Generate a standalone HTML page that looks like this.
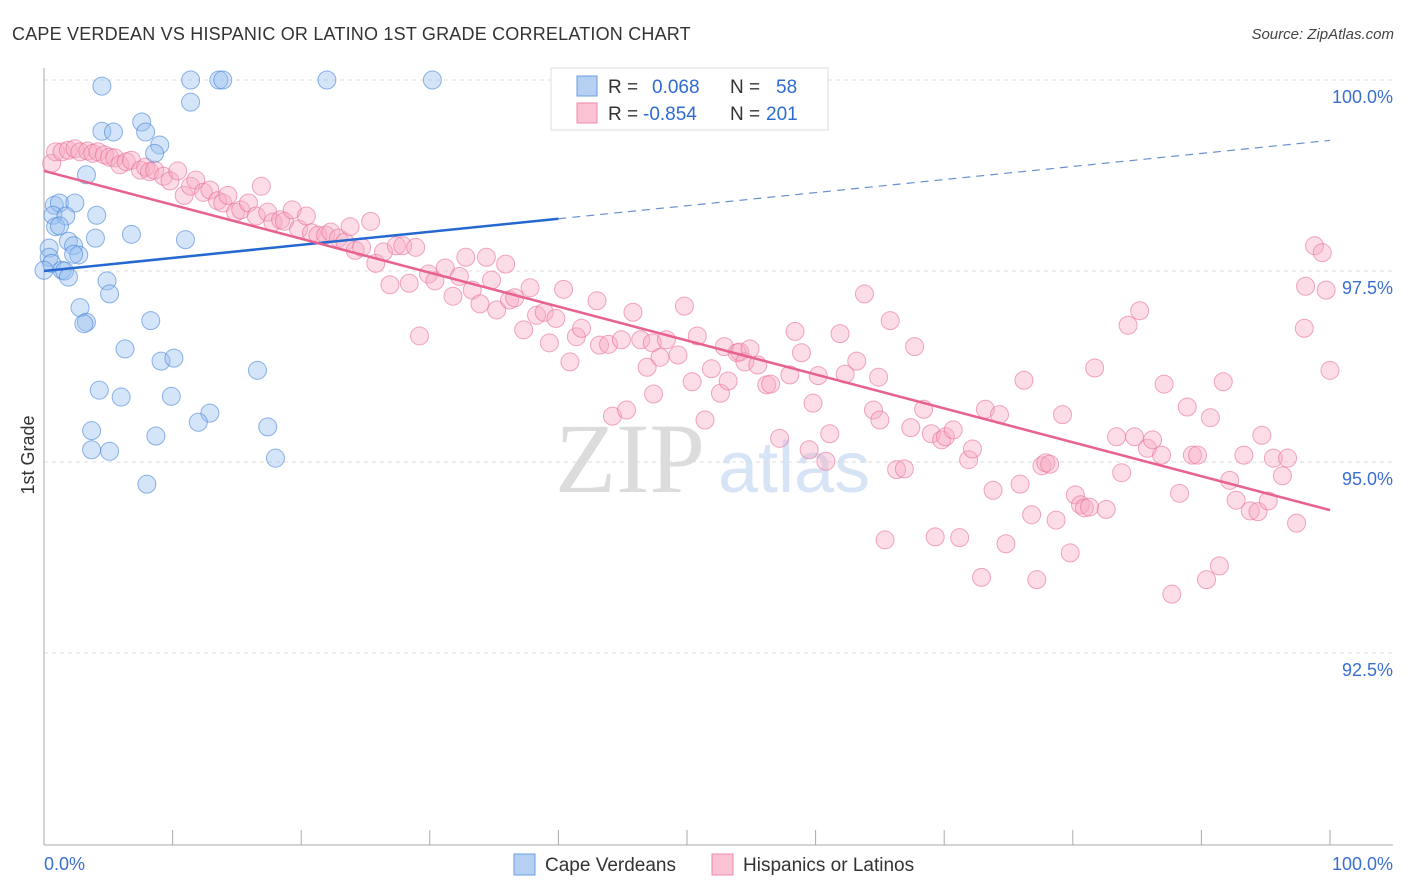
<!DOCTYPE html>
<html><head><meta charset="utf-8">
<style>
body{margin:0;background:#fff;font-family:"Liberation Sans",sans-serif;}
#wrap{position:relative;width:1406px;height:892px;overflow:hidden;}
</style></head>
<body>
<div id="wrap">
<svg id="chart" width="1406" height="892">
<text x="12" y="40" font-size="18" letter-spacing="0.2" fill="#333">CAPE VERDEAN VS HISPANIC OR LATINO 1ST GRADE CORRELATION CHART</text>
<text x="1394" y="39" font-size="15" fill="#444" font-style="italic" text-anchor="end">Source: ZipAtlas.com</text>
<text x="555" y="492" font-size="100" fill="#dcdcdc" font-family="Liberation Serif,serif">ZIP</text>
<text x="718" y="492" font-size="72" fill="#d6e4f6">atlas</text>
<g id="grid"></g>
<g id="axes"></g>
<g id="points"></g>
<g id="trends"></g>
<text transform="translate(34,455) rotate(-90)" font-size="18" fill="#333" text-anchor="middle">1st Grade</text>
<g>
<rect x="551" y="68" width="277" height="62" fill="#fff" stroke="#ddd"/>
<rect x="577" y="76" width="20" height="20" fill="#b5d0f3" stroke="#6a9ee0"/>
<rect x="577" y="103" width="20" height="20" fill="#fac2d3" stroke="#ec8aab"/>
<text x="608" y="93" font-size="19" fill="#333">R = <tspan fill="#2f6bd0" x="652">0.068</tspan><tspan x="730" fill="#333">N =</tspan><tspan x="776" fill="#2f6bd0">58</tspan></text>
<text x="608" y="120" font-size="19" fill="#333">R = <tspan fill="#2f6bd0" x="643">-0.854</tspan><tspan x="730" fill="#333">N =</tspan><tspan x="766" fill="#2f6bd0">201</tspan></text>
</g>
<g>
<rect x="514" y="854" width="21" height="21" fill="#b5d0f3" stroke="#6a9ee0"/>
<text x="545" y="871" font-size="19" fill="#333">Cape Verdeans</text>
<rect x="712" y="854" width="21" height="21" fill="#fac2d3" stroke="#ec8aab"/>
<text x="743" y="871" font-size="19" fill="#333">Hispanics or Latinos</text>
</g>
</svg>
</div>
<script>
const yTicks=[100,97.5,95,92.5];
const yTickLabels=["100.0%","97.5%","95.0%","92.5%"];
const xTickLabels=["0.0%","100.0%"];
const blueX=[4.5,11.4,13.6,13.9,22.0,30.2,11.4,7.6,4.5,5.4,7.9,9.0,8.6,3.3,0.8,1.2,2.4,0.7,1.7,4.1,0.9,1.2,6.8,11.0,1.9,4.0,0.4,2.3,0.4,2.7,2.3,0.6,1.4,1.6,0,4.9,1.9,5.1,2.8,3.3,3.1,8.3,6.3,9.1,10.1,16.6,4.3,6.0,9.9,12.9,12.0,3.7,8.7,17.4,3.7,5.1,18.0,8.0];
const blueY=[99.92,100,100,100,100,100,99.71,99.45,99.33,99.32,99.32,99.15,99.04,98.76,98.36,98.39,98.39,98.23,98.22,98.23,98.08,98.09,97.98,97.91,97.89,97.93,97.80,97.83,97.68,97.71,97.72,97.60,97.51,97.50,97.51,97.37,97.42,97.20,97.02,96.83,96.81,96.85,96.48,96.32,96.36,96.20,95.94,95.85,95.86,95.64,95.52,95.41,95.34,95.46,95.16,95.14,95.05,94.71];
const pinkX=[0.6,0.9,1.4,1.9,2.4,2.8,3.4,3.8,4.2,4.7,5.1,5.5,5.9,6.4,6.8,7.5,7.9,8.2,8.6,9.3,9.8,10.4,10.9,11.4,11.8,12.4,12.9,13.5,13.9,14.3,14.9,15.3,15.9,16.5,16.9,17.4,17.8,18.4,18.7,19.3,19.8,20.4,20.8,21.3,21.9,22.3,22.9,23.4,23.8,24.2,24.7,25.4,25.8,26.4,26.9,27.4,27.9,28.4,28.9,29.2,29.9,30.4,31.2,31.8,32.3,32.8,33.3,33.9,34.4,34.8,35.2,35.9,36.2,36.6,37.3,37.8,38.3,38.9,39.3,39.8,40.4,40.9,41.4,41.8,43.0,43.2,43.9,44.2,45.3,44.9,45.8,46.4,46.9,47.3,47.4,47.9,48.4,49.3,49.8,50.4,50.8,51.4,51.9,52.6,52.9,53.2,53.9,54.1,54.5,54.9,55.5,56.2,56.5,57.2,58.0,58.4,58.9,59.5,59.8,60.2,60.8,61.1,61.9,62.3,63.2,63.8,64.5,64.9,65.0,65.4,65.8,66.3,66.9,67.4,67.7,68.4,69.0,69.3,69.8,70.1,70.7,71.2,71.9,72.2,72.9,73.2,73.8,74.3,74.8,75.9,76.2,76.8,77.2,77.6,77.9,78.2,78.7,79.2,79.8,80.2,80.6,80.9,81.3,81.7,82.6,83.4,83.8,84.3,84.8,85.2,85.8,86.2,86.9,87.1,87.7,88.3,88.9,89.3,89.7,90.4,90.7,91.4,91.7,92.2,92.7,93.3,93.8,94.4,94.7,95.2,95.6,96.7,97.4,98.0,98.1,98.8,99.4,99.7,100.0,96.3];
const pinkY=[98.91,99.06,99.06,99.08,99.10,99.06,99.07,99.04,99.06,99.02,98.99,98.98,98.89,98.93,98.95,98.82,98.86,98.80,98.82,98.74,98.68,98.81,98.49,98.61,98.69,98.53,98.56,98.42,98.39,98.49,98.27,98.30,98.39,98.22,98.61,98.27,98.14,98.17,98.15,98.30,98.05,98.22,98.00,97.97,97.97,98.01,97.93,97.88,98.08,97.77,97.81,98.15,97.60,97.75,97.32,97.83,97.83,97.34,97.81,96.65,97.46,97.37,97.54,97.17,97.43,97.68,97.25,97.07,97.68,97.38,96.99,97.59,97.12,97.15,96.73,97.28,96.92,96.96,96.56,96.88,97.26,96.31,96.64,96.75,97.11,96.53,96.54,95.60,95.68,96.60,96.96,96.60,96.24,96.56,95.89,96.37,96.60,96.40,97.04,96.05,96.65,95.55,96.22,95.90,96.51,96.06,96.43,96.44,96.31,96.48,96.27,96.01,96.02,95.31,96.14,96.71,96.43,95.16,95.77,96.13,95.01,95.37,96.68,96.15,96.32,97.20,95.68,96.11,95.55,93.98,96.85,94.90,94.91,95.45,96.51,95.69,95.37,94.02,95.29,95.33,95.42,94.01,95.03,95.17,93.49,95.69,94.63,95.62,93.93,94.71,96.07,94.31,93.46,94.95,94.99,94.97,94.24,95.62,93.81,94.57,94.44,94.40,94.41,96.23,94.38,95.33,94.86,96.79,95.33,96.98,95.18,95.29,95.09,96.02,93.27,94.59,95.72,95.09,95.09,93.46,95.58,93.64,96.05,94.76,94.50,95.09,94.36,94.35,95.35,94.49,95.05,95.05,94.20,96.75,97.30,97.83,97.74,97.25,96.20,94.82];
const blueTrend=[97.5,99.21];
const pinkTrend=[98.81,94.37];
const blueSolidEnd=40;

const NS="http://www.w3.org/2000/svg";
const X0=44,X1=1330,Y100=80,PXPER=76.4;
function xs(v){return X0+(X1-X0)*v/100;}
function ys(v){return Y100+(100-v)*PXPER;}
function mk(tag,attrs,parent){const e=document.createElementNS(NS,tag);for(const k in attrs)e.setAttribute(k,attrs[k]);parent.appendChild(e);return e;}
const grid=document.getElementById('grid'),axes=document.getElementById('axes'),pts=document.getElementById('points'),tr=document.getElementById('trends');
yTicks.forEach((t,i)=>{
  const l=mk('line',{x1:X0,x2:1393,y1:ys(t),y2:ys(t),stroke:'#ddd','stroke-dasharray':'4,4'},grid);
  
  
  const tx=mk('text',{x:1393,y:ys(t)+23,'text-anchor':'end','font-size':18,fill:'#3a6fd0'},axes);
  tx.textContent=yTickLabels[i];
  
  
});
const ax=mk('line',{x1:X0,x2:X0,y1:68,y2:845,stroke:'#aaa'},axes);


const bx=mk('line',{x1:X0,x2:1393,y1:845,y2:845,stroke:'#aaa'},axes);


for(let i=0;i<=10;i++){
  const t=mk('line',{x1:xs(i*10),x2:xs(i*10),y1:830,y2:845,stroke:'#aaa'},axes);
  
  
}
const xl0=mk('text',{x:44,y:870,'font-size':18,fill:'#3a6fd0'},axes);xl0.textContent=xTickLabels[0];


const xl1=mk('text',{x:1393,y:870,'font-size':18,fill:'#3a6fd0','text-anchor':'end'},axes);xl1.textContent=xTickLabels[1];


pinkX.forEach((x,i)=>{
  const c=mk('circle',{cx:xs(x),cy:ys(pinkY[i]),r:9,fill:'rgba(247,170,195,0.4)',stroke:'rgba(232,110,150,0.6)','stroke-width':1},pts);
  
  
});
blueX.forEach((x,i)=>{
  const c=mk('circle',{cx:xs(x),cy:ys(blueY[i]),r:9,fill:'rgba(150,190,240,0.4)',stroke:'rgba(70,130,215,0.6)','stroke-width':1},pts);
  
  
});
function trendY(a,x){return a[0]+(a[1]-a[0])*x/100;}
const b1=mk('line',{x1:xs(0),y1:ys(trendY(blueTrend,0)),x2:xs(blueSolidEnd),y2:ys(trendY(blueTrend,blueSolidEnd)),stroke:'#2468d0','stroke-width':2.5},tr);


const b2=mk('line',{x1:xs(blueSolidEnd),y1:ys(trendY(blueTrend,blueSolidEnd)),x2:xs(100),y2:ys(trendY(blueTrend,100)),stroke:'#6a8fd0','stroke-width':1.2,'stroke-dasharray':'8,6'},tr);


const p1=mk('line',{x1:xs(0),y1:ys(trendY(pinkTrend,0)),x2:xs(100),y2:ys(trendY(pinkTrend,100)),stroke:'#e8628f','stroke-width':2.5},tr);


</script>
</body></html>
